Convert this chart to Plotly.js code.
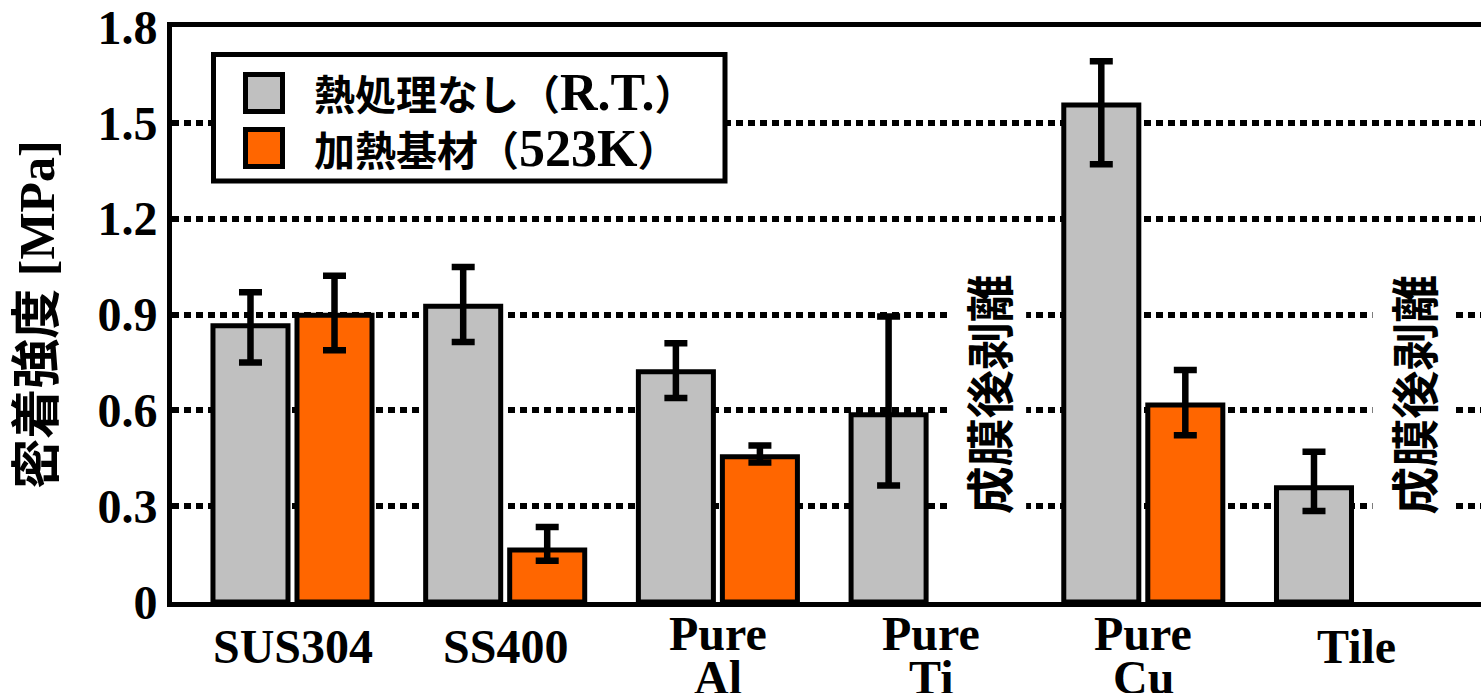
<!DOCTYPE html>
<html>
<head>
<meta charset="utf-8">
<script src="https://cdn.plot.ly/plotly-3.0.1.min.js"></script>
<style>
  html, body { margin: 0; padding: 0; overflow: hidden; background: #fff; }
  #chart { width: 1520px; height: 693px; }
</style>
</head>
<body>
<div id="chart"></div>
<script>
// ---- data ----
const categories = ['SUS304', 'SS400', 'Pure<br>Al', 'Pure<br>Ti', 'Pure<br>Cu', 'Tile'];
const seriesNames = ['熱処理なし（R.T.）', '加熱基材（523K）'];
const rtValues      = [0.865, 0.926, 0.721, 0.586, 1.556, 0.358];
const rtErrPlus     = [0.105, 0.123, 0.089, 0.308, 0.137, 0.112];
const rtErrMinus    = [0.115, 0.112, 0.082, 0.221, 0.186, 0.073];
const heatedValues   = [0.898, 0.163, 0.455, null, 0.617, null];
const heatedErrPlus  = [0.123, 0.072, 0.035, null, 0.109, null];
const heatedErrMinus = [0.110, 0.034, 0.018, null, 0.095, null];
const yTickVals = [0, 0.3, 0.6, 0.9, 1.2, 1.5, 1.8];
const yTickText = ['0', '0.3', '0.6', '0.9', '1.2', '1.5', '1.8'];
const peeledNote = '成膜後剥離';
const peeledCategories = ['Pure<br>Ti', 'Tile'];
const yTitle = '密着強度 [MPa]';

// ---- styles ----
const colors = ['#c0c0c0', '#ff6600'];
const serif = 'Liberation Serif, Noto Sans CJK JP, serif';
const gothic = 'Noto Sans CJK JP, sans-serif';

const W = 1520, H = 693;
const M = { l: 172, r: 20, t: 27, b: 91 };
const plotW = W - M.l - M.r, plotH = H - M.t - M.b;
const px = p => (p - M.l) / plotW;      // pixel -> paper x (legend box only)
const py = p => (H - M.b - p) / plotH;  // pixel -> paper y (legend box only)

const errStyle = { type: 'data', symmetric: false, color: '#000', thickness: 6.5, width: 11.5 };

const traces = [
  {
    type: 'bar', name: seriesNames[0], x: categories, y: rtValues,
    marker: { color: colors[0], line: { color: '#000', width: 5 } },
    error_y: Object.assign({ array: rtErrPlus, arrayminus: rtErrMinus }, errStyle),
    showlegend: false
  },
  {
    type: 'bar', name: seriesNames[1], x: categories, y: heatedValues,
    marker: { color: colors[1], line: { color: '#000', width: 5 } },
    error_y: Object.assign({ array: heatedErrPlus, arrayminus: heatedErrMinus }, errStyle),
    showlegend: false
  }
];

const annotations = [];
// category labels (each line placed separately for tight line spacing)
categories.forEach((c, i) => {
  const lines = c.split('<br>');
  const shifts = lines.length === 1 ? [-17] : [-4, -48];
  lines.forEach((ln, k) => {
    annotations.push({
      xref: 'x', yref: 'paper', x: i, y: 0, xanchor: 'center', yanchor: 'top',
      yshift: shifts[k], text: ln, showarrow: false, borderpad: 0,
      font: { family: serif, size: 48, color: '#000', weight: 'bold' }
    });
  });
});
// "peeled after coating" notes
peeledCategories.forEach(c => {
  const i = categories.indexOf(c);
  annotations.push({
    xref: 'x', yref: 'y', x: i + 0.265, y: 0.65, text: peeledNote, showarrow: false,
    textangle: -90, bgcolor: '#fff', borderpad: 4,
    font: { family: gothic, size: 48, color: '#000', weight: 'bold' }
  });
});
// legend texts (Latin parts drawn larger, as in the original mixed-font text)
const latinBig = s => s.replace(/[A-Za-z0-9.]+/g, m => '<span style="font-size:52px">' + m + '</span>');
seriesNames.forEach((n, k) => {
  annotations.push({
    xref: 'paper', yref: 'paper', x: px(313), y: py(k === 0 ? 92.5 : 148),
    xanchor: 'left', yanchor: 'middle', text: latinBig(n), showarrow: false, borderpad: 0,
    font: { family: serif, size: 41, color: '#000', weight: 'bold' }
  });
});

const shapes = [
  { type: 'rect', xref: 'paper', yref: 'paper', x0: px(213.5), x1: px(725), y0: py(54.5), y1: py(181),
    fillcolor: '#fff', line: { color: '#000', width: 5 }, layer: 'above' }
];
seriesNames.forEach((n, k) => {
  const top = k === 0 ? 74.5 : 129.5;
  shapes.push({ type: 'rect', xref: 'paper', yref: 'paper', x0: px(245.5), x1: px(282.5),
    y0: py(top), y1: py(top + 37), fillcolor: colors[k], line: { color: '#000', width: 5 }, layer: 'above' });
});

const layout = {
  width: W, height: H,
  margin: M,
  paper_bgcolor: '#fff', plot_bgcolor: '#fff',
  barmode: 'group', bargap: 0.21, bargroupgap: 0.107,
  showlegend: false,
  xaxis: {
    type: 'category', range: [-0.5665, 5.677], showticklabels: false, ticks: '',
    showgrid: false, zeroline: false,
    showline: true, linecolor: '#000', linewidth: 5, mirror: true
  },
  yaxis: {
    range: [0, 1.8], tickmode: 'array', tickvals: yTickVals, ticktext: yTickText,
    ticks: '', showline: true, linecolor: '#000', linewidth: 5, mirror: true,
    showgrid: true, gridcolor: '#000', gridwidth: 6, griddash: '7px,5px', zeroline: false,
    tickfont: { family: serif, size: 48, color: '#000', weight: 'bold' },
    ticklabelstandoff: 0,
    title: { text: yTitle, standoff: 28, font: { family: serif, size: 50, color: '#000', weight: 'bold' } },
    automargin: false
  },
  annotations: annotations,
  shapes: shapes
};

Plotly.newPlot('chart', traces, layout, { displayModeBar: false, staticPlot: true });
</script>
</body>
</html>
